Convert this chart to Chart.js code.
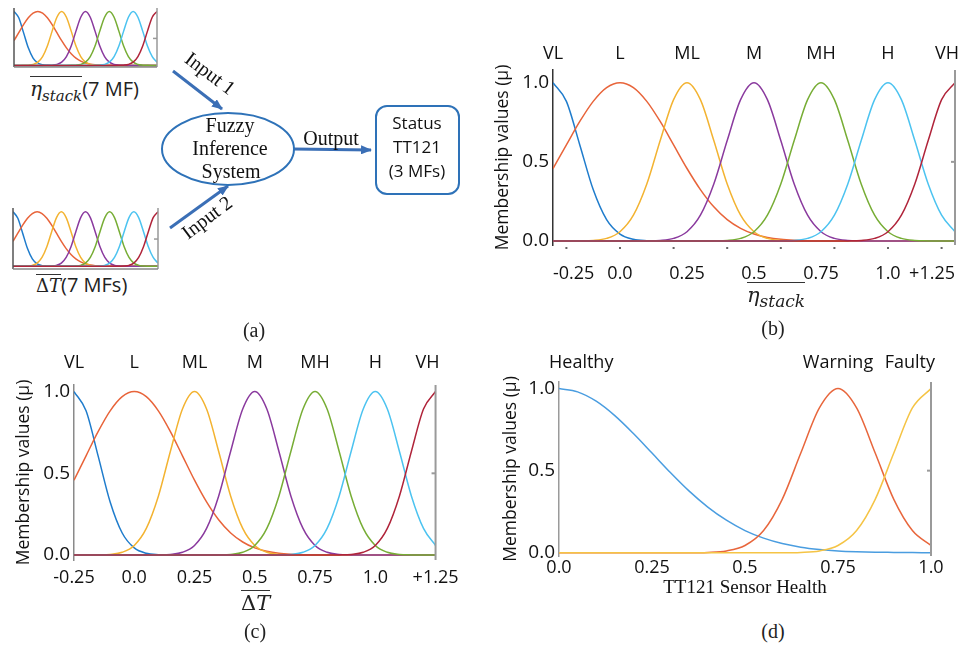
<!DOCTYPE html>
<html lang="en">
<head>
<meta charset="UTF-8">
<title>Fuzzy membership functions - TT121 sensor health</title>
<script src="https://cdn.jsdelivr.net/npm/chart.js"></script>
<style>
  body { margin:0; background:#fff; width:973px; height:645px; overflow:hidden; position:relative; font-family: "Open Sans", sans-serif; color:#111; }
  canvas, svg, .lbl, .cap { position:absolute; }
  .lbl { font-family: "Open Sans", sans-serif; font-size:20px; white-space:nowrap; line-height:1.2; color:#222; }
  .math { font-family: "DejaVu Serif", serif; font-style: italic; }
  .ovl { display:inline-block; border-top:1.5px solid #333; line-height:1; padding-top:2px; }
  .cap { font-family: "Liberation Serif", serif; font-size:20px; color:#222; transform: translate(-50%, -50%); }
</style>
</head>
<body>

<!-- (a) block diagram -->
<canvas id="mini1" width="145" height="61" style="left:13px; top:7px;"></canvas>
<canvas id="mini2" width="147" height="63" style="left:12px; top:207px;"></canvas>
<div class="lbl" style="left:30px; top:76px;"><span class="ovl math" style="font-size:20px">η<sub style="font-size:15px">stack</sub></span>(7 MF)</div>
<div class="lbl" style="left:36px; top:273px;"><span class="ovl" style="font-family:'DejaVu Serif',serif; font-size:18px">Δ<i>T</i></span>(7 MFs)</div>

<svg width="480" height="320" style="left:0; top:0;">
  <defs>
    <marker id="ah" markerUnits="userSpaceOnUse" markerWidth="11" markerHeight="9" refX="10" refY="4.5" orient="auto">
      <path d="M0,0 L11,4.5 L0,9 z" fill="#3b6fb6"/>
    </marker>
  </defs>
  <line x1="173" y1="71" x2="222" y2="109" stroke="#3b6fb6" stroke-width="3" marker-end="url(#ah)"/>
  <line x1="170" y1="228" x2="228" y2="186" stroke="#3b6fb6" stroke-width="3" marker-end="url(#ah)"/>
  <line x1="293" y1="149" x2="371" y2="150" stroke="#3b6fb6" stroke-width="3" marker-end="url(#ah)"/>
  <ellipse cx="228" cy="149" rx="66" ry="36" fill="none" stroke="#2e72b8" stroke-width="2"/>
  <rect x="376" y="106" width="83" height="88" rx="11" fill="none" stroke="#2e72b8" stroke-width="2"/>
  <g font-family="Liberation Serif, serif" font-size="20" fill="#111" text-anchor="middle" dominant-baseline="middle">
    <text x="230" y="127">Fuzzy</text>
    <text x="230" y="150">Inference</text>
    <text x="231" y="173">System</text>
    <text x="331" y="140">Output</text>
    <text transform="translate(209,75) rotate(37)">Input 1</text>
    <text transform="translate(208,219) rotate(-37)">Input 2</text>
  </g>
  <g font-family="Open Sans, sans-serif" font-size="17" fill="#111" text-anchor="middle" dominant-baseline="middle">
    <text x="417" y="124">Status</text>
    <text x="417" y="148">TT121</text>
    <text x="417" y="172">(3 MFs)</text>
  </g>
</svg>
<div class="cap" style="left:254px; top:330px;">(a)</div>

<!-- (b) eta_stack membership functions -->
<canvas id="chartB" width="480" height="245" style="left:493px; top:40px;"></canvas>
<div class="lbl math" style="left:747px; top:282px;"><span class="ovl" style="font-size:21px">η<sub style="font-size:17px">stack</sub></span></div>
<div class="cap" style="left:773px; top:328px;">(b)</div>

<!-- (c) delta T membership functions -->
<canvas id="chartC" width="452" height="260" style="left:14px; top:340px;"></canvas>
<div class="lbl" style="left:241px; top:590px;"><span class="ovl" style="font-family:'DejaVu Serif',serif; font-size:21px">Δ<i>T</i></span></div>
<div class="cap" style="left:255px; top:631px;">(c)</div>

<!-- (d) output membership functions -->
<canvas id="chartD" width="450" height="255" style="left:501px; top:345px;"></canvas>
<div class="cap" style="left:773px; top:631px;">(d)</div>

<script>
// input membership functions (same shapes for eta_stack and delta T)
const mfNames = ['VL', 'L', 'ML', 'M', 'MH', 'H', 'VH'];
const mfCenters = [-0.25, 0, 0.25, 0.5, 0.75, 1.0, 1.25];
const inputX = [-0.25, -0.2, -0.15, -0.1, -0.05, 0, 0.05, 0.1, 0.15, 0.2, 0.25, 0.3, 0.35, 0.4, 0.45, 0.5,
                0.55, 0.6, 0.65, 0.7, 0.75, 0.8, 0.85, 0.9, 0.95, 1.0, 1.05, 1.1, 1.15, 1.2, 1.25];
const muVL = [1, .882, .607, .325, .135, .044, .011, .002, 0, 0, 0, 0, 0, 0, 0, 0, 0, 0, 0, 0, 0, 0, 0, 0, 0, 0, 0, 0, 0, 0, 0];
const muL  = [.458, .607, .755, .882, .969, 1, .969, .882, .755, .607, .458, .325, .216, .135, .080, .044, .023, .011, .005, .002, .001, 0, 0, 0, 0, 0, 0, 0, 0, 0, 0];
const muML = [0, 0, .001, .004, .017, .059, .163, .360, .635, .893, 1, .893, .635, .360, .163, .059, .017, .004, .001, 0, 0, 0, 0, 0, 0, 0, 0, 0, 0, 0, 0];
const muM  = [0, 0, 0, 0, 0, 0, 0, .001, .004, .017, .059, .163, .360, .635, .893, 1, .893, .635, .360, .163, .059, .017, .004, .001, 0, 0, 0, 0, 0, 0, 0];
const muMH = [0, 0, 0, 0, 0, 0, 0, 0, 0, 0, 0, 0, .001, .004, .017, .059, .163, .360, .635, .893, 1, .893, .635, .360, .163, .059, .017, .004, .001, 0, 0];
const muH  = [0, 0, 0, 0, 0, 0, 0, 0, 0, 0, 0, 0, 0, 0, 0, 0, 0, .001, .004, .017, .059, .163, .360, .635, .893, 1, .893, .635, .360, .163, .059];
const muVH = [0, 0, 0, 0, 0, 0, 0, 0, 0, 0, 0, 0, 0, 0, 0, 0, 0, 0, 0, 0, 0, 0, .001, .004, .017, .059, .163, .360, .635, .893, 1];
const inputTickVals = [-0.25, 0, 0.25, 0.5, 0.75, 1.0, 1.25];
const inputTickLabels = ['-0.25', '0.0', '0.25', '0.5', '0.75', '1.0', '+1.25'];
const inputMinorTicks = [-0.2, 0, 0.2, 0.4, 0.6, 0.8, 1.0, 1.2];

// output membership functions (sensor health)
const healthNames = ['Healthy', 'Warning', 'Faulty'];
const healthCenters = [0, 0.75, 1.0];
const healthX = [0, 0.05, 0.1, 0.15, 0.2, 0.25, 0.3, 0.35, 0.4, 0.45, 0.5, 0.55, 0.6, 0.65, 0.7, 0.75, 0.8, 0.85, 0.9, 0.95, 1.0];
const muHealthy = [1, .980, .923, .835, .726, .607, .487, .375, .278, .198, .135, .089, .056, .034, .020, .011, .006, .003, .002, .001, 0];
const muWarning = [0, 0, 0, 0, 0, 0, 0, 0, .002, .011, .044, .135, .325, .607, .882, 1, .882, .607, .325, .135, .044];
const muFaulty  = [0, 0, 0, 0, 0, 0, 0, 0, 0, 0, 0, 0, 0, .002, .011, .044, .135, .325, .607, .882, 1];
const healthTickVals = [0, 0.25, 0.5, 0.75, 1.0];
const healthTickLabels = ['0.0', '0.25', '0.5', '0.75', '1.0'];

const muTickVals = [0, 0.5, 1.0];
const muTickLabels = ['0.0', '0.5', '1.0'];

const inputColors = ['#1f7ccc', '#e8643a', '#f3b331', '#8a3a9e', '#77ad35', '#4cc3f0', '#b0243a'];
const healthColors = ['#4a9de0', '#e8663c', '#f5c445'];
const inputSeries = [muVL, muL, muML, muM, muMH, muH, muVH];
const healthSeries = [muHealthy, muWarning, muFaulty];

const FONT = 'Open Sans';

// axis frame lines (right border, and left/bottom for the small plots), plus small tick dots
const framePlugin = {
  id: 'frame',
  afterDatasetsDraw(chart, args, o) {
    const {ctx, chartArea: a} = chart;
    const seg = (x1, y1, x2, y2) => { ctx.beginPath(); ctx.moveTo(x1, y1); ctx.lineTo(x2, y2); ctx.stroke(); };
    ctx.save();
    ctx.lineWidth = o.width || 2;
    if (o.right) {
      ctx.strokeStyle = o.right;
      seg(a.right, a.top, a.right, a.bottom);
      const y = chart.scales.y.getPixelForValue(0.5);
      seg(a.right - 4, y, a.right, y);
    }
    if (o.left) { ctx.strokeStyle = o.left; seg(a.left, a.top, a.left, a.bottom); }
    if (o.bottom) { ctx.strokeStyle = o.bottom; seg(a.left, a.bottom, a.right, a.bottom); }
    if (o.dots) {
      ctx.fillStyle = '#666';
      o.dots.forEach(v => {
        const x = chart.scales.x.getPixelForValue(v);
        ctx.fillRect(x - 1, a.bottom + 2, 2, 2);
      });
    }
    ctx.restore();
  }
};

// membership function names above the plot
const namePlugin = {
  id: 'mfNames',
  afterDraw(chart, args, o) {
    if (!o.names) return;
    const {ctx, chartArea: a} = chart;
    const xs = chart.scales.x;
    ctx.save();
    ctx.font = o.font;
    ctx.fillStyle = '#111';
    ctx.textAlign = 'center';
    ctx.textBaseline = 'middle';
    o.names.forEach((n, i) => {
      const w = ctx.measureText(n).width;
      let px = xs.getPixelForValue(o.centers[i]);
      px = Math.max(px, a.left - 10 + w / 2);
      px = Math.min(px, a.right + 4 - w / 2);
      ctx.fillText(n, px, a.top - o.gap);
    });
    ctx.restore();
  }
};

function makeDatasets(xs, series, colors) {
  return series.map((s, i) => ({
    data: xs.map((x, j) => ({x: x, y: s[j]})),
    borderColor: colors[i],
    borderWidth: 1.5,
    pointRadius: 0,
    fill: false,
    cubicInterpolationMode: 'monotone',
    order: series.length - i
  }));
}

function miniChart(id, yMin, yMax) {
  new Chart(document.getElementById(id), {
    type: 'line',
    data: {datasets: makeDatasets(inputX, inputSeries, inputColors)},
    options: {
      responsive: false, animation: false,
      layout: {padding: 1},
      plugins: {legend: {display: false}, tooltip: {enabled: false},
        frame: {left: '#555', right: '#999', bottom: '#888', width: 1.5}},
      scales: {
        x: {type: 'linear', display: false, min: -0.25, max: 1.25},
        y: {display: false, min: yMin, max: yMax}
      }
    },
    plugins: [framePlugin]
  });
}

function bigChart(id, c) {
  new Chart(document.getElementById(id), {
    type: 'line',
    data: {datasets: makeDatasets(c.xs, c.series, c.colors)},
    options: {
      responsive: false, animation: false,
      layout: {padding: c.padding},
      plugins: {
        legend: {display: false}, tooltip: {enabled: false},
        frame: {right: '#9a9a9a', width: 2, dots: c.dots},
        mfNames: {names: c.names, centers: c.centers, gap: c.nameGap, font: '18px "' + FONT + '"'}
      },
      scales: {
        x: {
          type: 'linear', min: c.xMin, max: c.xMax,
          afterBuildTicks: s => { s.ticks = c.tickVals.map(v => ({value: v})); },
          afterFit: s => { s.height = c.xHeight; },
          grid: {display: false, drawTicks: false},
          border: {display: false},
          ticks: {callback: (v, i) => c.tickLabels[i], autoSkip: false, maxRotation: 0,
                  align: c.tickAlign, padding: c.xPad, color: '#111', font: {family: FONT, size: 18}},
          title: c.xTitle ? {display: true, text: c.xTitle, color: '#111', padding: {top: 0, bottom: 1},
                             font: {family: 'Liberation Serif', size: 19}} : {display: false}
        },
        y: {
          min: c.yMin, max: c.yMax,
          afterBuildTicks: s => { s.ticks = muTickVals.map(v => ({value: v})); },
          afterFit: s => { s.width = c.yWidth; },
          grid: {display: false, drawTicks: false},
          border: {color: c.axisColor, width: 1.5},
          ticks: {callback: (v, i) => muTickLabels[i], padding: 4, color: '#111', font: {family: FONT, size: 19}},
          title: {display: true, text: 'Membership values (μ)', color: '#111', padding: 0,
                  font: {family: FONT, size: 17.5}}
        }
      }
    },
    plugins: [framePlugin, namePlugin]
  });
}

miniChart('mini1', -0.03, 1.064);
miniChart('mini2', -0.05, 1.07);

bigChart('chartB', {
  xs: inputX, series: inputSeries, colors: inputColors, names: mfNames, centers: mfCenters,
  xMin: -0.25, xMax: 1.25, yMin: -0.025, yMax: 1.08,
  tickVals: inputTickVals, tickLabels: inputTickLabels, tickAlign: 'inner', dots: inputMinorTicks,
  padding: {top: 30, right: 3.5, left: 0, bottom: 0}, xHeight: 40, yWidth: 60, xPad: 18,
  nameGap: 16, axisColor: '#333'
});

bigChart('chartC', {
  xs: inputX, series: inputSeries, colors: inputColors, names: mfNames, centers: mfCenters,
  xMin: -0.25, xMax: 1.25, yMin: -0.03, yMax: 1.04,
  tickVals: inputTickVals, tickLabels: inputTickLabels, tickAlign: 'center',
  padding: {top: 45, right: 25, left: 0, bottom: 0}, xHeight: 40, yWidth: 60, xPad: 7.5,
  nameGap: 22, axisColor: '#8a8a8a'
});

bigChart('chartD', {
  xs: healthX, series: healthSeries, colors: healthColors, names: healthNames, centers: healthCenters,
  xMin: 0, xMax: 1, yMin: -0.02, yMax: 1.04,
  tickVals: healthTickVals, tickLabels: healthTickLabels, tickAlign: 'center',
  padding: {top: 37, right: 20, left: 0, bottom: 0}, xHeight: 44, yWidth: 58, xPad: 1.5,
  xTitle: 'TT121 Sensor Health', nameGap: 19, axisColor: '#9a9a9a'
});
</script>
</body>
</html>
